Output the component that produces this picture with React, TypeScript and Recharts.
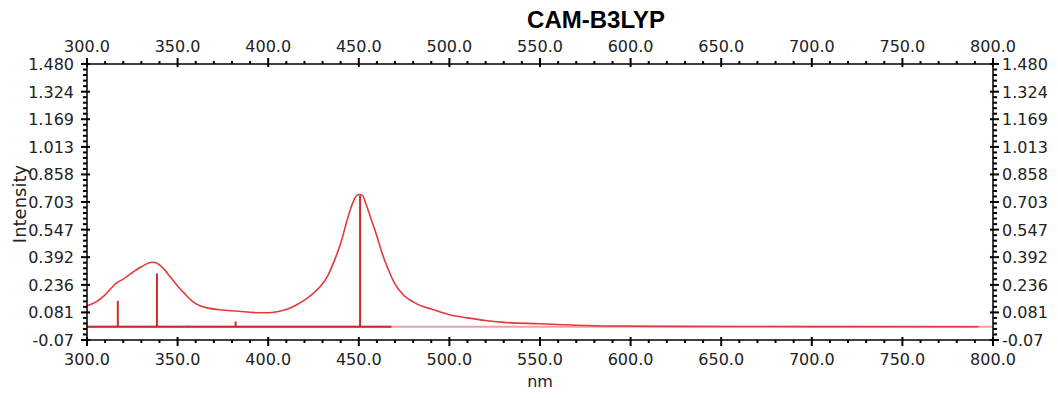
import { ComposedChart, Line, XAxis, YAxis, ReferenceLine } from 'recharts';

// broadened spectrum (nm, intensity)
const curveWl = [
  300, 305, 310, 316, 320, 324, 330, 336, 338, 342, 346, 350, 354, 358, 362, 367, 372, 380,
  385, 390, 395, 400, 405, 410, 415, 420, 425, 429, 433, 436, 440, 443, 446, 448.5, 450, 452,
  454, 457, 460, 463, 466, 470, 475, 480, 485, 490, 500, 510, 520, 530, 550, 570, 590, 620,
  700, 792,
];
const curveInt = [
  0.118, 0.14, 0.18, 0.245, 0.268, 0.298, 0.338, 0.363, 0.36, 0.33, 0.28, 0.23, 0.185, 0.145,
  0.12, 0.105, 0.097, 0.09, 0.086, 0.082, 0.079, 0.079, 0.085, 0.097, 0.12, 0.15, 0.19, 0.23,
  0.29, 0.36, 0.47, 0.58, 0.68, 0.735, 0.745, 0.74, 0.69, 0.6, 0.51, 0.41, 0.33, 0.24, 0.175,
  0.14, 0.115, 0.1, 0.068, 0.05, 0.035, 0.025, 0.017, 0.009, 0.004, 0.002, 0.001, 0.0,
];

// excitation sticks
const stickWl = [317, 338.6, 355.5, 382, 450.7];
const stickInt = [0.146, 0.3, 0.006, 0.03, 0.74];

const xMajorTicks = [300, 350, 400, 450, 500, 550, 600, 650, 700, 750, 800];
const yTickValues = [-0.0745, 0.081, 0.236, 0.392, 0.547, 0.703, 0.858, 1.013, 1.169, 1.324, 1.48];
const yTickLabels = ['-0.07', '0.081', '0.236', '0.392', '0.547', '0.703', '0.858', '1.013', '1.169', '1.324', '1.480'];

const curve = curveWl.map((wl, i) => ({ wl, y: curveInt[i] }));

const xTicks: number[] = [];
xMajorTicks.forEach((v, i) => {
  xTicks.push(v);
  if (i < xMajorTicks.length - 1) for (let k = 1; k < 5; k++) xTicks.push(v + k * 10);
});
const yTicks: number[] = [];
yTickValues.forEach((v, i) => {
  yTicks.push(v);
  if (i < yTickValues.length - 1) {
    const step = (yTickValues[i + 1] - v) / 5;
    for (let k = 1; k < 5; k++) yTicks.push(v + k * step);
  }
});

const tickFont = { fontFamily: 'DejaVu Sans', fontSize: 16, fill: '#222' };

const XTick = (props: any) => {
  const { x, y, payload, side } = props;
  const v = payload.value;
  const major = xMajorTicks.includes(v);
  const dir = side === 'top' ? -1 : 1;
  return (
    <g>
      <line
        x1={x}
        x2={x}
        y1={major ? y - dir * 3 : y}
        y2={y + dir * (major ? 6 : 3)}
        stroke="#000"
        strokeWidth={2}
      />
      {major && (
        <text x={x} y={side === 'top' ? y - 12 : y + 25} textAnchor="middle" {...tickFont}>
          {v.toFixed(1)}
        </text>
      )}
    </g>
  );
};

const YTick = (props: any) => {
  const { x, y, payload, side } = props;
  const v = payload.value;
  const idx = yTickValues.findIndex((t) => Math.abs(t - v) < 1e-6);
  const major = idx >= 0;
  const dir = side === 'right' ? 1 : -1;
  return (
    <g>
      <line
        x1={major ? x - dir * 3 : x}
        x2={x + dir * (major ? 6 : 4)}
        y1={y}
        y2={y}
        stroke="#000"
        strokeWidth={2}
      />
      {major && (
        <text
          x={side === 'right' ? x + 9 : x - 13}
          y={y + 6}
          textAnchor={side === 'right' ? 'start' : 'end'}
          {...tickFont}
        >
          {yTickLabels[idx]}
        </text>
      )}
    </g>
  );
};

const axisLine = { stroke: '#000', strokeWidth: 1.5 };

export default function App() {
  return (
    <div style={{ position: 'absolute', left: 0, top: 0, width: 1058, height: 398, background: '#fff' }}>
      <ComposedChart width={1058} height={398} data={curve} margin={{ top: 0, right: 0, bottom: 0, left: 0 }}>
        <XAxis
          dataKey="wl"
          type="number"
          domain={[300, 800]}
          ticks={xTicks}
          interval={0}
          allowDataOverflow
          height={58}
          tickSize={0}
          tickMargin={0}
          tickLine={false}
          axisLine={axisLine}
          tick={<XTick side="bottom" />}
        />
        <XAxis
          xAxisId="top"
          dataKey="wl"
          orientation="top"
          type="number"
          domain={[300, 800]}
          ticks={xTicks}
          interval={0}
          allowDataOverflow
          height={64}
          tickSize={0}
          tickMargin={0}
          tickLine={false}
          axisLine={axisLine}
          tick={<XTick side="top" />}
        />
        <YAxis
          type="number"
          domain={[-0.0745, 1.48]}
          ticks={yTicks}
          interval={0}
          allowDataOverflow
          width={87}
          tickSize={0}
          tickMargin={0}
          tickLine={false}
          axisLine={axisLine}
          tick={<YTick side="left" />}
        />
        <YAxis
          yAxisId="right"
          orientation="right"
          type="number"
          domain={[-0.0745, 1.48]}
          ticks={yTicks}
          interval={0}
          allowDataOverflow
          width={65}
          tickSize={0}
          tickMargin={0}
          tickLine={false}
          axisLine={axisLine}
          tick={<YTick side="right" />}
        />
        <ReferenceLine segment={[{ x: 300, y: 0 }, { x: 800, y: 0 }]} stroke="#eaa3a3" strokeWidth={2} />
        <ReferenceLine segment={[{ x: 300, y: 0 }, { x: 468, y: 0 }]} stroke="#cc2a2a" strokeWidth={2} />
        {stickWl.map((wl, i) => (
          <ReferenceLine
            key={wl}
            segment={[{ x: wl, y: 0 }, { x: wl, y: stickInt[i] }]}
            stroke="#d02a2a"
            strokeWidth={2}
          />
        ))}
        <Line
          dataKey="y"
          type="monotone"
          stroke="#e23b3b"
          strokeWidth={1.6}
          dot={false}
          isAnimationActive={false}
        />
        <Line
          xAxisId="top"
          yAxisId="right"
          dataKey="y"
          stroke="none"
          dot={false}
          legendType="none"
          isAnimationActive={false}
        />
      </ComposedChart>
      <svg width={1058} height={398} style={{ position: 'absolute', left: 0, top: 0, pointerEvents: 'none' }}>
        <text x={596} y={28} textAnchor="middle" fontFamily="Liberation Sans" fontWeight="bold" fontSize={24} fill="#000">
          CAM-B3LYP
        </text>
        <text x={540} y={387} textAnchor="middle" fontFamily="DejaVu Sans" fontSize={16} fill="#222">
          nm
        </text>
        <text
          x={26}
          y={204}
          textAnchor="middle"
          transform="rotate(-90 26 204)"
          fontFamily="DejaVu Sans"
          fontSize={18}
          fill="#222"
        >
          Intensity
        </text>
      </svg>
    </div>
  );
}
